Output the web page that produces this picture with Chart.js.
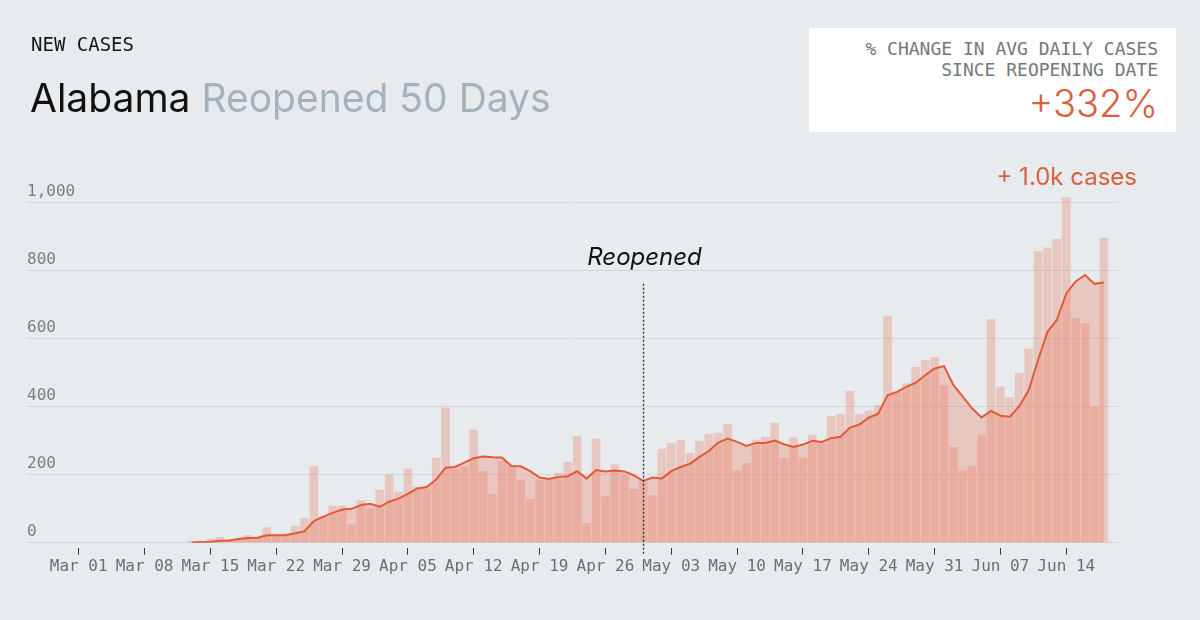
<!DOCTYPE html>
<html>
<head>
<meta charset="utf-8">
<script src="https://cdn.jsdelivr.net/npm/chart.js@4"></script>
<style>
  html, body { margin: 0; padding: 0; background: #e8ebee; }
  #wrap { position: relative; width: 1200px; height: 620px; overflow: hidden; }
  #chart { position: absolute; left: 0; top: 0; }
  .kicker { position: absolute; left: 31px; top: 33px; font: 19px "DejaVu Sans Mono", monospace; color: #161616; }
  .title { position: absolute; left: 30px; top: 74px; font: 39px Inter, sans-serif; color: #111; }
  .title span { color: #a3b2bb; }
  .box { position: absolute; left: 809px; top: 28px; width: 367px; height: 104px; background: #fff; }
  .box .lbl { position: absolute; right: 18px; top: 10px; text-align: right; font: 18px/21px "DejaVu Sans Mono", monospace; color: #73787c; }
  .box .big { position: absolute; right: 18px; top: 52px; font: 300 38px Inter, sans-serif; color: #d9603f; }
  .peak { position: absolute; right: 63px; top: 162px; font: 24px Inter, sans-serif; color: #d9603f; }
</style>
</head>
<body>
<div id="wrap">
  <canvas id="chart" width="1200" height="620"></canvas>
  <div class="kicker">NEW CASES</div>
  <div class="title">Alabama <span>Reopened 50 Days</span></div>
  <div class="box">
    <div class="lbl">% CHANGE IN AVG DAILY CASES<br>SINCE REOPENING DATE</div>
    <div class="big">+332%</div>
  </div>
  <div class="peak">+ 1.0k cases</div>
</div>
<script>
// axis range: Feb 25 .. Jun 20, 2020 (one category per day)
const axisStart = new Date(2020, 1, 25);
const axisDays = 116;
const firstCaseDay = 'Mar 13';
const reopenDay = 'Apr 30';

const tickLabels = ['Mar 01', 'Mar 08', 'Mar 15', 'Mar 22', 'Mar 29', 'Apr 05', 'Apr 12',
  'Apr 19', 'Apr 26', 'May 03', 'May 10', 'May 17', 'May 24', 'May 31', 'Jun 07', 'Jun 14'];
const yTicks = [0, 200, 400, 600, 800, 1000];

// daily new cases, Mar 13 .. Jun 18
const dailyCases = [
  5, 6, 12, 17, 10, 12, 23, 18, 46, 20, 28, 49, 72, 226, 79, 109, 109, 54, 125, 100,
  156, 200, 150, 218, 166, 160, 250, 398, 218, 225, 333, 211, 143, 241, 228, 186, 129, 185, 190, 206,
  238, 314, 58, 307, 137, 231, 200, 158, 180, 140, 277, 294, 302, 264, 300, 321, 324, 350, 213, 235,
  303, 311, 353, 250, 310, 250, 318, 295, 373, 379, 447, 379, 390, 405, 668, 445, 469, 517, 538, 546,
  464, 282, 213, 225, 318, 658, 459, 428, 500, 572, 858, 869, 894, 1017, 661, 646, 400, 897
];

// 7-day average, Mar 13 .. Jun 18
const avgCases = [
  1, 2, 3, 6, 7, 11, 14, 15, 22, 22, 22, 28, 34, 64, 77, 88, 98, 100, 111, 115,
  106, 121, 130, 144, 160, 164, 186, 221, 223, 236, 249, 254, 252, 251, 226, 225, 211, 192, 188, 194,
  196, 211, 189, 214, 210, 213, 210, 199, 182, 192, 189, 211, 223, 233, 253, 270, 295, 307, 297, 285,
  294, 294, 301, 290, 282, 289, 300, 297, 308, 312, 339, 348, 368, 380, 434, 444, 459, 471, 493, 513,
  520, 464, 430, 395, 369, 388, 374, 371, 402, 449, 538, 621, 656, 734, 769, 788, 762, 766
];

const months = ['Jan', 'Feb', 'Mar', 'Apr', 'May', 'Jun', 'Jul'];
const labels = [];
for (let i = 0; i < axisDays; i++) {
  const d = new Date(axisStart.getFullYear(), axisStart.getMonth(), axisStart.getDate() + i);
  labels.push(months[d.getMonth()] + ' ' + String(d.getDate()).padStart(2, '0'));
}

function pad(values) {
  const out = new Array(axisDays).fill(null);
  const start = labels.indexOf(firstCaseDay);
  values.forEach((v, i) => { out[start + i] = v; });
  return out;
}

const mono = '"DejaVu Sans Mono", monospace';

const reopenMarker = {
  id: 'reopenMarker',
  afterDatasetsDraw(chart) {
    const { ctx, chartArea, scales: { x, y } } = chart;
    const px = Math.round(x.getPixelForValue(labels.indexOf(reopenDay))) + 0.5;
    ctx.save();
    ctx.strokeStyle = '#2a2a2a';
    ctx.lineWidth = 1.3;
    ctx.setLineDash([2, 2]);
    ctx.beginPath();
    ctx.moveTo(px, y.getPixelForValue(762));
    ctx.lineTo(px, chartArea.bottom + 12);
    ctx.stroke();
    ctx.setLineDash([]);
    ctx.fillStyle = '#111';
    ctx.font = 'italic 24px Inter, sans-serif';
    ctx.textAlign = 'center';
    ctx.textBaseline = 'alphabetic';
    ctx.fillText('Reopened', px + 1, y.getPixelForValue(818));
    ctx.restore();
  }
};

new Chart(document.getElementById('chart'), {
  type: 'bar',
  data: {
    labels: labels,
    datasets: [
      {
        type: 'line',
        label: '7-day average',
        data: pad(avgCases),
        borderColor: '#e15a37',
        borderWidth: 2,
        backgroundColor: 'rgba(236,108,78,0.28)',
        fill: 'origin',
        pointRadius: 0,
        tension: 0,
        order: 1
      },
      {
        label: 'New cases',
        data: pad(dailyCases),
        backgroundColor: 'rgba(236,108,78,0.28)',
        barPercentage: 0.92,
        categoryPercentage: 1,
        order: 2
      }
    ]
  },
  options: {
    responsive: false,
    animation: false,
    layout: { padding: { left: 27, right: 82, top: 169, bottom: 42 } },
    plugins: { legend: { display: false }, tooltip: { enabled: false } },
    scales: {
      x: {
        offset: true,
        grid: {
          offset: false,
          drawOnChartArea: false,
          drawTicks: true,
          tickLength: 12,
          tickColor: '#3a3a3a',
          tickWidth: 1,
          tickBorderDash: [0, 5, 7, 100]
        },
        border: { display: true, color: '#d3d7da', width: 1 },
        afterBuildTicks: (axis) => {
          axis.ticks = axis.ticks.filter(t => tickLabels.includes(labels[t.value]));
        },
        ticks: {
          autoSkip: false,
          maxRotation: 0,
          padding: 2,
          color: '#6b6f73',
          font: { family: mono, size: 16 },
          callback: (value) => labels[value]
        }
      },
      y: {
        min: 0,
        max: 1100,
        afterBuildTicks: (axis) => {
          axis.ticks = yTicks.map(v => ({ value: v }));
        },
        grid: { color: '#d3d7da', lineWidth: 1, drawTicks: false },
        border: { display: false },
        ticks: {
          mirror: true,
          padding: 0,
          labelOffset: -11,
          color: '#7a7e82',
          font: { family: mono, size: 16 },
          callback: (v) => v.toLocaleString('en-US')
        }
      }
    }
  },
  plugins: [reopenMarker]
});
</script>
</body>
</html>
